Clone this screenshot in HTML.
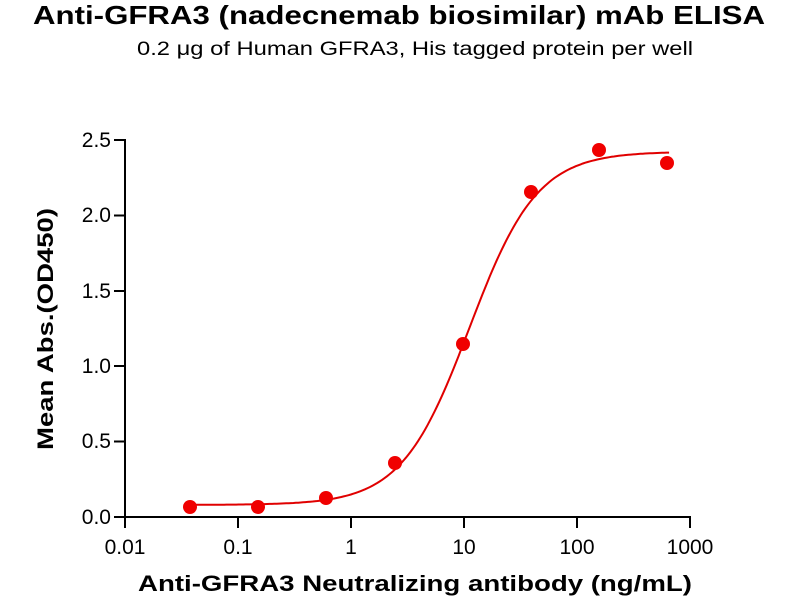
<!DOCTYPE html>
<html><head><meta charset="utf-8"><style>body{margin:0;background:#fff}svg{display:block}</style></head>
<body>
<svg id="s" width="800" height="600" xmlns="http://www.w3.org/2000/svg" font-family="Liberation Sans, Arial, sans-serif">
<rect width="800" height="600" fill="#fff"/>
<text x="399" y="24" font-size="26" font-weight="bold" text-anchor="middle" textLength="732" lengthAdjust="spacingAndGlyphs">Anti-GFRA3 (nadecnemab biosimilar) mAb ELISA</text>
<text x="415" y="55" font-size="19" text-anchor="middle" textLength="556" lengthAdjust="spacingAndGlyphs">0.2 μg of Human GFRA3, His tagged protein per well</text>
<g stroke="#000" stroke-width="2" fill="none">
<line x1="125" y1="139" x2="125" y2="518"/>
<line x1="124" y1="517" x2="691" y2="517"/>
<line x1="114" y1="140" x2="125" y2="140"/>
<line x1="114" y1="215.5" x2="125" y2="215.5"/>
<line x1="114" y1="291" x2="125" y2="291"/>
<line x1="114" y1="366" x2="125" y2="366"/>
<line x1="114" y1="441.5" x2="125" y2="441.5"/>
<line x1="114" y1="517" x2="125" y2="517"/>
<line x1="125" y1="517" x2="125" y2="528"/>
<line x1="238" y1="517" x2="238" y2="528"/>
<line x1="351" y1="517" x2="351" y2="528"/>
<line x1="464" y1="517" x2="464" y2="528"/>
<line x1="577" y1="517" x2="577" y2="528"/>
<line x1="690" y1="517" x2="690" y2="528"/>
</g>
<g font-size="21" text-anchor="end">
<text x="111" y="147">2.5</text><text x="111" y="222">2.0</text><text x="111" y="298">1.5</text>
<text x="111" y="373">1.0</text><text x="111" y="448">0.5</text><text x="111" y="524">0.0</text>
</g>
<g font-size="21" text-anchor="middle">
<text x="125" y="554">0.01</text><text x="238" y="554">0.1</text><text x="351" y="554">1</text>
<text x="464" y="554">10</text><text x="577" y="554">100</text><text x="690" y="554">1000</text>
</g>
<text x="415" y="591" font-size="22" font-weight="bold" text-anchor="middle" textLength="554" lengthAdjust="spacingAndGlyphs">Anti-GFRA3 Neutralizing antibody (ng/mL)</text>
<text transform="translate(53,329) rotate(-90)" font-size="22" font-weight="bold" text-anchor="middle" textLength="242" lengthAdjust="spacingAndGlyphs">Mean Abs.(OD450)</text>
<path id="c" fill="none" stroke="#e00000" stroke-width="2"/>
<g fill="#f00000">
<circle cx="190" cy="507" r="7"/><circle cx="258" cy="507" r="7"/><circle cx="326" cy="498" r="7"/>
<circle cx="395" cy="463" r="7"/><circle cx="463" cy="344" r="7"/><circle cx="531" cy="192" r="7"/>
<circle cx="599" cy="150" r="7"/><circle cx="667" cy="163" r="7"/>
</g>
</svg>
<script>
var d="";for(var i=0;i<=200;i++){var lx=Math.log10(0.038)+i*(Math.log10(640)-Math.log10(0.038))/200;var x=Math.pow(10,lx);
var y=0.08+2.34/(1+Math.pow(11/x,1.45));var px=125+113.2*(lx+2),py=517-151*y;d+=(i?"L":"M")+px.toFixed(1)+" "+py.toFixed(1);}
document.getElementById("c").setAttribute("d",d);
</script>
</body></html>
